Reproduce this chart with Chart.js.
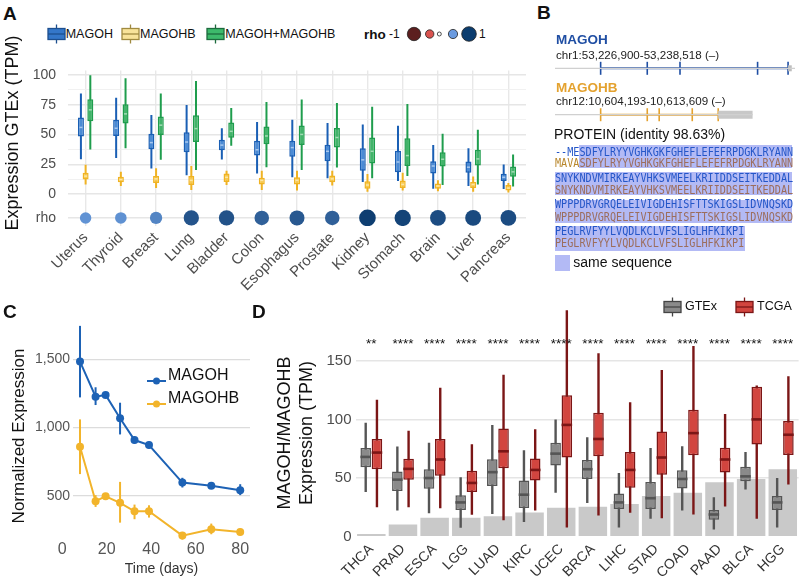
<!DOCTYPE html>
<html>
<head>
<meta charset="utf-8">
<script src="https://cdn.jsdelivr.net/npm/chart.js@4.4.1/dist/chart.umd.min.js"></script>
<style>
  body { margin: 0; background: #fff; font-family: 'Liberation Sans', Arial, sans-serif; }
  #page { position: relative; width: 800px; height: 582px; overflow: hidden; background: #fff; }
  canvas { position: absolute; }
  .t { position: absolute; white-space: nowrap; line-height: 1; color: #111; }
  .v { position: absolute; white-space: nowrap; line-height: 1; color: #111; transform-origin: 0 0; transform: rotate(-90deg) translate(-50%, -50%); }
  .seq { position: absolute; white-space: nowrap; line-height: 1; font-family: 'DejaVu Sans Mono', 'Liberation Mono', monospace; font-size: 12px; transform: scaleX(0.845); transform-origin: left center; }
  .hl { position: absolute; background: #b3baf5; }
  .key { position: absolute; }
</style>
</head>
<body>
<div id="page">
  <canvas id="cA" width="532" height="245" style="left:0;top:50px"></canvas>
  <canvas id="cB" width="250" height="62" style="left:550px;top:60px"></canvas>
  <canvas id="cC" width="255" height="287" style="left:0;top:295px"></canvas>
  <canvas id="cD" width="550" height="287" style="left:250px;top:295px"></canvas>
</div>
<script>
// ---------- DATA ----------
// panel A: GTEx expression per tissue (box stats in TPM)
const tissues = ['Uterus', 'Thyroid', 'Breast', 'Lung', 'Bladder', 'Colon', 'Esophagus', 'Prostate', 'Kidney', 'Stomach', 'Brain', 'Liver', 'Pancreas'];
const magohMin = [29.2, 30.2, 21.4, 15.8, 28.9, 17.1, 14, 13.2, 10.1, 10.9, 4.4, 6.7, 4.1];
const magohQ1  = [48.3, 48.8, 37.7, 35.1, 36.7, 32.3, 31.3, 27.6, 19.6, 18.3, 17.3, 17.8, 10.9];
const magohMed = [56, 55.3, 43.2, 43.7, 41.1, 37.2, 39, 35.9, 28.7, 26.9, 23.5, 22.5, 14];
const magohQ3  = [64.3, 62.5, 50.6, 51.9, 45.7, 44.7, 44.7, 41.3, 38.5, 36.4, 27.6, 27.4, 17];
const magohMax = [84.5, 81, 66.4, 74.9, 55.3, 60.5, 62.5, 59.7, 58.4, 57.4, 41.1, 38.5, 24.8];
const magohbMin = [8, 6.7, 4.9, 3.4, 7.5, 3.4, 2.8, 7, 1.8, 2.8, 2.3, 1.8, 1.3];
const magohbQ1  = [12.1, 9.8, 9.3, 7.5, 10.1, 8, 8, 9.8, 4.4, 4.9, 4.4, 4.9, 2.8];
const magohbMed = [15, 12.1, 12.7, 11.4, 14, 11.4, 11.4, 12.7, 7.5, 8, 6.7, 8, 4.9];
const magohbQ3  = [17.8, 14.5, 15.2, 15, 17.3, 13.7, 14, 15.5, 10.6, 11.4, 8.8, 10.1, 7.5];
const magohbMax = [24.5, 18.6, 21.7, 23.5, 19.6, 19.6, 19.6, 19.6, 16.8, 17.8, 11.6, 14.7, 9.3];
const sumMin = [37.5, 38.5, 28.7, 20.2, 40.6, 22.5, 20.2, 22.2, 13.2, 15.2, 7.5, 8, 6.2];
const sumQ1  = [61.2, 59.2, 49.6, 43.7, 47.3, 41.9, 41.1, 39, 25.6, 23.5, 23, 24, 14.5];
const sumMed = [70.8, 67.4, 57.9, 55, 52.7, 48.8, 50.1, 47.5, 35.9, 32.3, 29.2, 29.5, 18.6];
const sumQ3  = [79.8, 75.5, 65.1, 66.2, 60.2, 56.8, 57.6, 55.6, 47.5, 46.8, 35.1, 37.2, 23];
const sumMax = [100, 97.4, 84.5, 95.1, 72.4, 77.3, 79.6, 76.5, 73.4, 75.7, 50.6, 54, 33.3];
const rho = [0.55, 0.56, 0.62, 0.86, 0.87, 0.8, 0.84, 0.8, 0.97, 0.94, 0.9, 0.91, 0.9];
const aTicks = [-20.2, 0, 12.5, 25, 37.5, 50, 62.5, 75, 87.5, 100];
const RHO_ROW = -20.2;

// panel B: gene models (kb from start of gene)
const magohTrack = [-2.83, 12.05];
const magohSpan = [0, 11.62];
const magohUtr = [11.62, 11.85];
const magohExons = [0, 2.89, 4.92, 9.73, 11.62];
const magohbTrack = [-2.83, 9.42];
const magohbSpan = [0, 7.29];
const magohbUtr = [7.29, 9.42];
const magohbExons = [0, 2.89, 3.63, 5.68, 7.29];

// panel C: time course
const days = [8, 15, 19.5, 26, 32.5, 39, 54, 67, 80];
const magohExpr = [1483, 1226, 1239, 1068, 909, 872, 598, 574, 542];
const magohLo   = [1221, 1165, 1222, 950, 884, 848, 562, 552, 506];
const magohHi   = [1744, 1295, 1255, 1182, 933, 897, 633, 596, 586];
const magohbExpr = [860, 462, 498, 450, 388, 388, 210, 257, 237];
const magohbLo   = [660, 420, 482, 305, 330, 342, 181, 220, 213];
const magohbHi   = [1060, 506, 514, 603, 437, 432, 237, 298, 261];
const dayTicks = [0, 20, 40, 60, 80];
const exprTicks = [500, 1000, 1500];

// panel D: GTEx vs TCGA MAGOH/MAGOHB ratio
const cancers = ['THCA', 'PRAD', 'ESCA', 'LGG', 'LUAD', 'KIRC', 'UCEC', 'BRCA', 'LIHC', 'STAD', 'COAD', 'PAAD', 'BLCA', 'HGG'];
const gtexMin = [38, 22.2, 20, 7.5, 19.4, 12.5, 37.5, 28.6, 7.8, 15.3, 22.2, 6.1, 40.3, 7.8];
const gtexQ1  = [59.2, 38.9, 40.8, 22.8, 43.1, 24.4, 60.6, 49.2, 23.6, 23.6, 41.1, 14.4, 47.2, 22.8];
const gtexMed = [68, 48.6, 50, 29.2, 55, 35.8, 70.8, 57.5, 29.2, 32.8, 49.2, 18.9, 51.4, 29.2];
const gtexQ3  = [75.6, 55.6, 57.5, 35.3, 66.1, 47.8, 80, 65.3, 36.9, 46.7, 56.7, 22.8, 59.7, 34.7];
const gtexMax = [97.2, 76.9, 80, 50.6, 95.3, 73.6, 100, 84.7, 54.2, 75.6, 77.2, 33.6, 72.2, 50];
const tcgaMin = [25, 25, 24.2, 18.6, 13.9, 22.2, 7.8, 18, 20.3, 15.8, 18.9, 25.8, 15.3, 44.4];
const tcgaQ1  = [57.5, 48.6, 51.9, 38.1, 58.3, 47.8, 67.5, 68.6, 41.7, 52.8, 69.4, 54.7, 78.6, 69.7];
const tcgaMed = [71.7, 57.8, 65.8, 45.8, 72.8, 56.9, 95.3, 83.3, 56.9, 67.5, 88.3, 65.8, 100, 86.9];
const tcgaQ3  = [83.3, 66.4, 83.3, 56.1, 92.2, 66.7, 120.6, 105.6, 72.2, 89.7, 108.3, 75.8, 127.8, 98.6];
const tcgaMax = [116.7, 90.3, 126.9, 78.9, 138, 91.7, 193, 156.4, 114.7, 142.2, 162.5, 104.7, 129, 136.7];
const tumorBars = [2.2, 10.3, 16.1, 16.1, 17.5, 20.6, 24.7, 25.6, 27.8, 34.7, 37.5, 46.4, 49.2, 57.5];
const signif = ['**', '****', '****', '****', '****', '****', '****', '****', '****', '****', '****', '****', '****', '****'];
const STAR_ROW = 161;
const dTicks = [0, 50, 100, 150];

// ---------- HELPERS ----------
Chart.defaults.font.family = "'Liberation Sans', Arial, sans-serif";
Chart.defaults.color = '#4d4d4d';

const page = document.getElementById('page');
function txt(x, yc, str, size, extra) {
  const d = document.createElement('div');
  d.className = 't';
  d.style.left = x + 'px';
  d.style.top = (yc - size / 2) + 'px';
  d.style.fontSize = size + 'px';
  if (extra) Object.assign(d.style, extra);
  d.textContent = str;
  page.appendChild(d);
  return d;
}
// vertical (rotated) axis title centred on xc, yc
function vtxt(xc, yc, str, size) {
  const d = document.createElement('div');
  d.className = 'v';
  d.style.left = xc + 'px';
  d.style.top = yc + 'px';
  d.style.fontSize = size + 'px';
  d.textContent = str;
  page.appendChild(d);
}
function html(x, y, str) {
  const d = document.createElement('div');
  d.className = 'key';
  d.style.left = x + 'px';
  d.style.top = y + 'px';
  d.innerHTML = str;
  page.appendChild(d);
}
function boxKey(fill, stroke) {
  return `<svg width="19" height="20"><line x1="9.5" y1="0.5" x2="9.5" y2="19.5" stroke="${stroke}" stroke-width="1.3"/>` +
    `<rect x="1" y="4.5" width="17" height="11" fill="${fill}" stroke="${stroke}" stroke-width="1.3"/>` +
    `<line x1="1" y1="10" x2="18" y2="10" stroke="${stroke}" stroke-width="1.3"/></svg>`;
}
const pairs = (a, b) => a.map((v, i) => [v, b[i]]);

// median lines on top of the floating box bars
function medianPlugin(sets) {
  return {
    id: 'medians',
    afterDatasetsDraw(chart) {
      const { ctx } = chart;
      const y = chart.scales.y;
      sets.forEach(s => {
        const meta = chart.getDatasetMeta(s.dataset);
        ctx.save();
        ctx.strokeStyle = s.color;
        ctx.lineWidth = s.width;
        meta.data.forEach((bar, i) => {
          const { x, width } = bar.getProps(['x', 'width'], true);
          const py = y.getPixelForValue(s.values[i]);
          ctx.beginPath();
          ctx.moveTo(x - width / 2 + s.inset, py);
          ctx.lineTo(x + width / 2 - s.inset, py);
          ctx.stroke();
        });
        ctx.restore();
      });
    }
  };
}

function errorBarPlugin(sets) {
  return {
    id: 'errbars',
    afterDatasetsDraw(chart) {
      const { ctx } = chart;
      const y = chart.scales.y;
      sets.forEach(s => {
        const meta = chart.getDatasetMeta(s.dataset);
        ctx.save();
        ctx.strokeStyle = s.color;
        ctx.lineWidth = 2;
        meta.data.forEach((pt, i) => {
          ctx.beginPath();
          ctx.moveTo(pt.x, y.getPixelForValue(s.lo[i]));
          ctx.lineTo(pt.x, y.getPixelForValue(s.hi[i]));
          ctx.stroke();
        });
        ctx.restore();
      });
    }
  };
}

const starPlugin = {
  id: 'stars',
  afterDatasetsDraw(chart) {
    const { ctx, scales: { x, y } } = chart;
    ctx.save();
    ctx.font = "13.5px 'Liberation Sans', Arial, sans-serif";
    ctx.fillStyle = '#111';
    ctx.textAlign = 'center';
    ctx.textBaseline = 'alphabetic';
    signif.forEach((s, i) => ctx.fillText(s, x.getPixelForValue(i), y.getPixelForValue(STAR_ROW)));
    ctx.restore();
  }
};

function rhoColor(r) {
  const lo = [107, 157, 224], hi = [8, 56, 106];
  const t = Math.min(1, Math.max(0, (r - 0.5) / 0.5));
  return 'rgb(' + lo.map((c, k) => Math.round(c + (hi[k] - c) * t)).join(',') + ')';
}

const noPlugins = { legend: { display: false }, tooltip: { enabled: false } };

// ---------- PANEL A ----------
const A = {
  magoh: { fill: '#4b8bd5', line: '#1a5fb4', med: '#a8c8ef' },
  magohb: { fill: '#f7c94e', line: '#f0b323', med: '#fce6a4' },
  sum: { fill: '#42b46a', line: '#1f9d4d', med: '#a3dbb5' }
};
const aBox = (data, stack, c) => ({
  data, stack, order: 1, backgroundColor: c.fill, borderColor: c.line, borderWidth: 1.5,
  borderSkipped: false, categoryPercentage: 0.4, barPercentage: 1.28
});
const aWhisker = (data, stack, c) => ({
  data, stack, order: 2, backgroundColor: c.line, borderWidth: 0,
  categoryPercentage: 0.4, barPercentage: 1, maxBarThickness: 2
});

new Chart(document.getElementById('cA'), {
  type: 'bar',
  data: {
    labels: tissues,
    datasets: [
      aBox(pairs(magohQ1, magohQ3), 'a', A.magoh),
      aBox(pairs(magohbQ1, magohbQ3), 'b', A.magohb),
      aBox(pairs(sumQ1, sumQ3), 'c', A.sum),
      aWhisker(pairs(magohMin, magohMax), 'a', A.magoh),
      aWhisker(pairs(magohbMin, magohbMax), 'b', A.magohb),
      aWhisker(pairs(sumMin, sumMax), 'c', A.sum),
      {
        type: 'line', order: 0, showLine: false, data: rho.map(() => RHO_ROW),
        pointRadius: c => 2.3 + 6.2 * Math.abs(rho[c.dataIndex]),
        pointBackgroundColor: c => rhoColor(rho[c.dataIndex]),
        pointBorderWidth: 0
      }
    ]
  },
  options: {
    responsive: false, animation: false, events: [],
    layout: { autoPadding: false, padding: { top: 7, right: 6, left: 0, bottom: 0 } },
    plugins: noPlugins,
    scales: {
      x: {
        stacked: true, offset: true,
        grid: { offset: false, color: '#e8e8e8', lineWidth: 1.4, drawTicks: false },
        border: { display: false },
        ticks: { autoSkip: false, minRotation: 45, maxRotation: 45, color: '#4d4d4d', font: { size: 15 }, padding: 3 },
        afterFit: s => { s.height = 69; }
      },
      y: {
        stacked: false, min: -27, max: 104,
        afterBuildTicks: s => { s.ticks = aTicks.map(v => ({ value: v })); },
        ticks: {
          autoSkip: false, color: '#4d4d4d', font: { size: 14 }, padding: 12,
          callback: v => v === RHO_ROW ? 'rho' : (v % 25 === 0 ? String(v) : '')
        },
        grid: {
          drawTicks: false,
          color: c => (c.tick.value % 25 === 0 || c.tick.value === RHO_ROW) ? '#e6e6e6' : '#efefef',
          lineWidth: c => (c.tick.value % 25 === 0 || c.tick.value === RHO_ROW) ? 1.4 : 0.9
        },
        border: { display: false },
        afterFit: s => { s.width = 68; }
      }
    }
  },
  plugins: [medianPlugin([
    { dataset: 0, values: magohMed, color: A.magoh.med, width: 1.5, inset: 1.5 },
    { dataset: 1, values: magohbMed, color: A.magohb.med, width: 1.5, inset: 1.5 },
    { dataset: 2, values: sumMed, color: A.sum.med, width: 1.5, inset: 1.5 }
  ])]
});

// ---------- PANEL B ----------
const BLUE_G = '#1f4ea3', ORANGE_G = '#e4a22f';
const seg = (span, y) => span.map(x => ({ x, y }));
new Chart(document.getElementById('cB'), {
  type: 'scatter',
  data: {
    datasets: [
      { type: 'line', data: seg(magohTrack, 1), borderColor: '#d0d0d0', borderWidth: 1.3, pointRadius: 0 },
      { type: 'line', data: seg(magohUtr, 1), borderColor: '#bdbdbd', borderWidth: 6, pointRadius: 0, borderCapStyle: 'butt' },
      { type: 'line', data: seg(magohSpan, 1), borderColor: BLUE_G, borderWidth: 2, pointRadius: 0 },
      { data: magohExons.map(x => ({ x, y: 1 })), pointStyle: 'line', pointRotation: 90, pointRadius: 6.5, pointBorderColor: BLUE_G, pointBorderWidth: 1.6 },
      { type: 'line', data: seg(magohbTrack, 0), borderColor: '#d0d0d0', borderWidth: 1.3, pointRadius: 0 },
      { type: 'line', data: seg(magohbUtr, 0), borderColor: '#c8c8c8', borderWidth: 8, pointRadius: 0, borderCapStyle: 'butt' },
      { type: 'line', data: seg(magohbSpan, 0), borderColor: ORANGE_G, borderWidth: 2, pointRadius: 0 },
      { data: magohbExons.map(x => ({ x, y: 0 })), pointStyle: 'line', pointRotation: 90, pointRadius: 6.5, pointBorderColor: ORANGE_G, pointBorderWidth: 1.6 }
    ]
  },
  options: {
    responsive: false, animation: false, events: [],
    layout: { autoPadding: false, padding: 0 },
    plugins: noPlugins,
    scales: {
      x: { type: 'linear', display: false, min: -3.14, max: 12.36 },
      y: { type: 'linear', display: false, min: -0.157, max: 1.179 }
    }
  }
});

// ---------- PANEL C ----------
const C_BLUE = '#1d62b5', C_YEL = '#f2b42b';
const lineSet = (label, ys, color) => ({
  label, data: days.map((d, i) => ({ x: d, y: ys[i] })),
  borderColor: color, backgroundColor: color, borderWidth: 2,
  pointRadius: 4, pointBorderWidth: 0, pointBackgroundColor: color
});
new Chart(document.getElementById('cC'), {
  type: 'line',
  data: { datasets: [lineSet('MAGOH', magohExpr, C_BLUE), lineSet('MAGOHB', magohbExpr, C_YEL)] },
  options: {
    responsive: false, animation: false, events: [],
    layout: { autoPadding: false, padding: { top: 28, right: 5, left: 0, bottom: 0 } },
    plugins: noPlugins,
    scales: {
      x: {
        type: 'linear', min: 4.85, max: 84.4,
        afterBuildTicks: s => { s.ticks = dayTicks.map(v => ({ value: v })); },
        grid: { display: false, drawTicks: false },
        border: { display: false },
        ticks: { autoSkip: false, color: '#555', font: { size: 16 }, padding: 0, maxRotation: 0 },
        title: { display: true, text: 'Time (days)', color: '#333', font: { size: 14 }, padding: { top: 0, bottom: 4.6 } },
        afterFit: s => { s.height = 42; }
      },
      y: {
        min: 178, max: 1765,
        afterBuildTicks: s => { s.ticks = exprTicks.map(v => ({ value: v })); },
        grid: { color: '#dcdcdc', lineWidth: 1.3, drawTicks: false },
        border: { display: false },
        ticks: { color: '#555', font: { size: 14 }, padding: 3, callback: v => v.toLocaleString('en-US') },
        afterFit: s => { s.width = 73; }
      }
    }
  },
  plugins: [errorBarPlugin([
    { dataset: 0, lo: magohLo, hi: magohHi, color: C_BLUE },
    { dataset: 1, lo: magohbLo, hi: magohbHi, color: C_YEL }
  ])]
});

// ---------- PANEL D ----------
const D = {
  gtex: { fill: '#8a8a8a', line: '#555555' },
  tcga: { fill: '#d2453f', line: '#7b1616' }
};
const dBox = (data, stack, c) => ({
  data, stack, order: 1, backgroundColor: c.fill, borderColor: c.line, borderWidth: 1.5,
  borderSkipped: false, categoryPercentage: 0.71, barPercentage: 0.94
});
const dWhisker = (data, stack, c) => ({
  data, stack, order: 2, backgroundColor: c.line, borderWidth: 0,
  categoryPercentage: 0.71, barPercentage: 1, maxBarThickness: 2.4
});
new Chart(document.getElementById('cD'), {
  type: 'bar',
  data: {
    labels: cancers,
    datasets: [
      dBox(pairs(gtexQ1, gtexQ3), 'g', D.gtex),
      dBox(pairs(tcgaQ1, tcgaQ3), 't', D.tcga),
      dWhisker(pairs(gtexMin, gtexMax), 'g', D.gtex),
      dWhisker(pairs(tcgaMin, tcgaMax), 't', D.tcga),
      { data: tumorBars, grouped: false, order: 3, backgroundColor: '#c9c9c9', borderWidth: 0, categoryPercentage: 1, barPercentage: 0.9 }
    ]
  },
  options: {
    responsive: false, animation: false, events: [],
    layout: { autoPadding: false, padding: { top: 8, right: 1.4, left: 0, bottom: 0 } },
    plugins: noPlugins,
    scales: {
      x: {
        stacked: true, offset: true,
        grid: { display: false, drawTicks: false },
        border: { display: false },
        ticks: { autoSkip: false, minRotation: 45, maxRotation: 45, color: '#333', font: { size: 14 }, padding: 2 },
        afterFit: s => { s.height = 43; }
      },
      y: {
        stacked: false, min: -2, max: 195,
        afterBuildTicks: s => { s.ticks = dTicks.map(v => ({ value: v })); },
        grid: { drawTicks: false, lineWidth: 1.5, color: c => c.tick.value === 0 ? 'rgba(0,0,0,0)' : '#e5e5e5' },
        border: { display: false },
        ticks: { color: '#4d4d4d', font: { size: 15 }, padding: 4 },
        afterFit: s => { s.width = 105.5; }
      }
    }
  },
  plugins: [medianPlugin([
    { dataset: 0, values: gtexMed, color: D.gtex.line, width: 2.6, inset: 0 },
    { dataset: 1, values: tcgaMed, color: D.tcga.line, width: 2.6, inset: 0 }
  ]), starPlugin]
});

// ---------- TEXT, LEGENDS ----------
const bold = { fontWeight: 'bold' };
txt(3, 13.5, 'A', 19, bold);
txt(537, 12.5, 'B', 19, bold);
txt(3, 311.5, 'C', 19, bold);
txt(252, 311.5, 'D', 19, bold);

// axis titles
vtxt(12, 133, 'Expression GTEx (TPM)', 18);
vtxt(18, 436, 'Normalized Expression', 17);
vtxt(284, 433, 'MAGOH/MAGOHB', 18);
vtxt(306, 433, 'Expression (TPM)', 18);

// legend A
html(46.7, 24.3, boxKey('#3477c9', '#1d4f8f'));
txt(65.7, 34.3, 'MAGOH', 12.5);
html(120.7, 24.3, boxKey('#f8e39a', '#a08a40'));
txt(140, 34.3, 'MAGOHB', 12.5);
html(205.7, 24.3, boxKey('#3dba6b', '#1d6b3d'));
txt(225.3, 34.3, 'MAGOH+MAGOHB', 12.5);
txt(364, 34.3, 'rho', 13.5, bold);
txt(389, 34.3, '-1', 12);
html(403, 24.3, '<svg width="80" height="20">' +
  '<circle cx="11" cy="10" r="6.7" fill="#5c1f1f" stroke="#222" stroke-width="0.8"/>' +
  '<circle cx="26.7" cy="10" r="4.2" fill="#d9534f" stroke="#222" stroke-width="0.8"/>' +
  '<circle cx="36.3" cy="10" r="2" fill="#ffffff" stroke="#222" stroke-width="0.8"/>' +
  '<circle cx="50" cy="10" r="4.6" fill="#6b9be0" stroke="#222" stroke-width="0.8"/>' +
  '<circle cx="66" cy="10" r="7.3" fill="#0b3d6f" stroke="#222" stroke-width="0.8"/></svg>');
txt(479, 34.3, '1', 12);

// panel B text
txt(556, 40, 'MAGOH', 13.5, { fontWeight: 'bold', color: BLUE_G });
txt(556, 54.5, 'chr1:53,226,900-53,238,518 (\u2013)', 11.6, { color: '#222' });
txt(556, 87.5, 'MAGOHB', 13.5, { fontWeight: 'bold', color: ORANGE_G });
txt(556, 100.8, 'chr12:10,604,193-10,613,609 (\u2013)', 11.6, { color: '#222' });
txt(554, 133.5, 'PROTEIN (identity 98.63%)', 14, { color: '#111' });

const hls = [[579.3, 145, 212.4, 23.3], [555, 172.3, 236.7, 22.7], [555, 200, 236.7, 22.7], [555, 226, 190, 25]];
hls.forEach(h => {
  const d = document.createElement('div');
  d.className = 'hl';
  Object.assign(d.style, { left: h[0] + 'px', top: h[1] + 'px', width: h[2] + 'px', height: h[3] + 'px' });
  page.appendChild(d);
});
const SEQ_A = '#2456c8', SEQ_B = '#9c6d5c';
function seqRow(yc, parts) {
  const d = document.createElement('div');
  d.className = 'seq';
  d.style.left = '555px';
  d.style.top = (yc - 6) + 'px';
  d.innerHTML = parts.map(p => `<span style="color:${p[1]}">${p[0]}</span>`).join('');
  page.appendChild(d);
}
seqRow(151.7, [['--ME', SEQ_A], ['SDFYLRYYVGHKGKFGHEFLEFEFRPDGKLRYANN', SEQ_A]]);
seqRow(162.7, [['MAVA', '#b8862b'], ['SDFYLRYYVGHKGKFGHEFLEFEFRPDGKLRYANN', SEQ_B]]);
seqRow(177.7, [['SNYKNDVMIRKEAYVHKSVMEELKRIIDDSEITKEDDAL', SEQ_A]]);
seqRow(190, [['SNYKNDVMIRKEAYVHKSVMEELKRIIDDSEITKEDDAL', SEQ_B]]);
seqRow(204.3, [['WPPPDRVGRQELEIVIGDEHISFTTSKIGSLIDVNQSKD', SEQ_A]]);
seqRow(216.7, [['WPPPDRVGRQELEIVIGDEHISFTTSKIGSLIDVNQSKD', SEQ_B]]);
seqRow(231, [['PEGLRVFYYLVQDLKCLVFSLIGLHFKIKPI', SEQ_A]]);
seqRow(242.7, [['PEGLRVFYYLVQDLKCLVFSLIGLHFKIKPI', SEQ_B]]);
const sw = document.createElement('div');
sw.className = 'hl';
Object.assign(sw.style, { left: '555px', top: '255px', width: '15px', height: '15.7px' });
page.appendChild(sw);
txt(573.3, 261.5, 'same sequence', 14, { color: '#111' });

// legend C
[[375, C_BLUE, 'MAGOH'], [398.3, C_YEL, 'MAGOHB']].forEach(([y, col, name]) => {
  html(147, y - 4, `<svg width="19" height="8"><line x1="0" y1="4" x2="19" y2="4" stroke="${col}" stroke-width="2"/><circle cx="9.5" cy="4" r="3.5" fill="${col}"/></svg>`);
  txt(168, y, name, 16, { color: '#111' });
});

// legend D
html(663, 296.7, boxKey('#8a8a8a', '#444444'));
txt(685, 306.7, 'GTEx', 12.5);
html(735, 296.7, boxKey('#d2453f', '#7b1616'));
txt(757, 306.7, 'TCGA', 12.5);
</script>
</body>
</html>
